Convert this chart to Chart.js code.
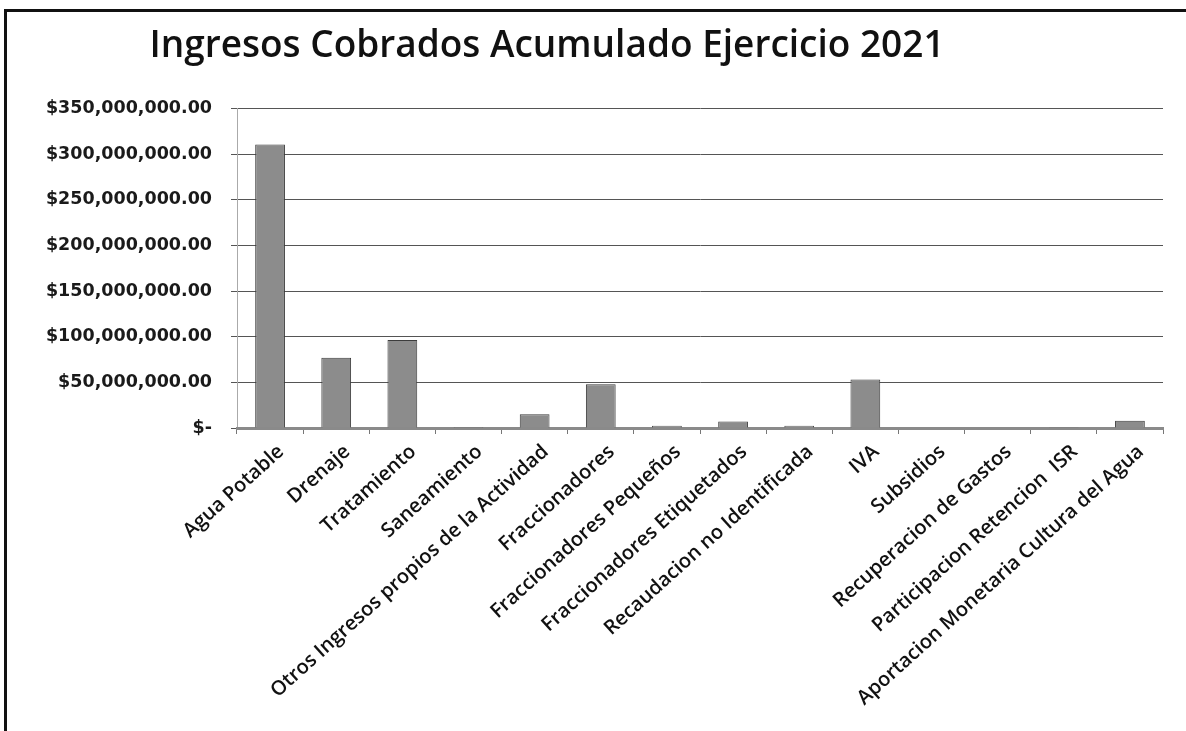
<!DOCTYPE html>
<html>
<head>
<meta charset="utf-8">
<script src="https://cdn.jsdelivr.net/npm/chart.js@4/dist/chart.umd.min.js"></script>
<style>
html,body{margin:0;padding:0;background:#fff;}
#wrap{position:relative;width:1186px;height:731px;}
#frame{position:absolute;left:4px;top:9px;right:0;bottom:0;border-left:3px solid #111;border-top:3px solid #111;pointer-events:none;}
</style>
</head>
<body>
<div id="wrap">
<canvas id="chart" width="1186" height="731"></canvas>
<div id="frame"></div>
</div>
<script>
// chart data
const titleText = "Ingresos Cobrados Acumulado Ejercicio 2021";
const categories = [
  "Agua Potable",
  "Drenaje",
  "Tratamiento",
  "Saneamiento",
  "Otros Ingresos propios de la Actividad",
  "Fraccionadores",
  "Fraccionadores Pequeños",
  "Fraccionadores Etiquetados",
  "Recaudacion no Identificada",
  "IVA",
  "Subsidios",
  "Recuperacion de Gastos",
  "Participacion Retencion  ISR",
  "Aportacion Monetaria Cultura del Agua"
];
const ingresos = [310600000, 76900000, 96300000, 1000000, 15000000, 47800000, 2500000, 7000000, 2500000, 53000000, 0, 0, 400000, 8000000];
const yTicks = [0, 50000000, 100000000, 150000000, 200000000, 250000000, 300000000, 350000000];

function money(v){
  if(v === 0) return "$-";
  return "$" + v.toLocaleString("en-US", {minimumFractionDigits: 2, maximumFractionDigits: 2});
}

// move the title so it sits where the original has it
const titleShift = {
  id: "titleShift",
  afterLayout(chart){
    const t = chart.titleBlock;
    if(!t) return;
    t.left = 0;
    t.right = 1094;
    t.width = 1094;
  }
};

let ctx = document.getElementById("chart").getContext("2d");

let chartInstance = new Chart(ctx, {
  type: "bar",
  data: {
    labels: categories,
    datasets: [{
      label: "Ingresos",
      data: ingresos,
      backgroundColor: "#8c8c8c",
      borderColor: "#3c3c3c",
      borderWidth: 1,
      barPercentage: 0.45,
      categoryPercentage: 1
    }]
  },
  options: {
    responsive: false,
    animation: false,
    devicePixelRatio: 1,
    layout: { padding: { left: 10, right: 23, top: 0, bottom: 0 } },
    plugins: {
      legend: { display: false },
      tooltip: { enabled: false },
      title: {
        display: true,
        text: titleText,
        color: "#111",
        font: { family: "'Open Sans'", size: 37, weight: "600", lineHeight: 1.2 },
        padding: { top: 24, bottom: 40 }
      }
    },
    scales: {
      y: {
        min: 0,
        max: 350000000,
        afterBuildTicks(scale){
          scale.ticks = yTicks.map(v => ({ value: v }));
        },
        afterFit(scale){ scale.width = 227; },
        ticks: {
          callback: v => money(v),
          color: "#1a1a1a",
          padding: 19,
          font: { family: "'DejaVu Sans'", size: 17.5, weight: "bold" }
        },
        grid: { color: "#555", lineWidth: 1, tickLength: 6 },
        border: { display: true, color: "#aaa", width: 1 }
      },
      x: {
        afterFit(scale){ scale.height = 303; },
        ticks: {
          autoSkip: false,
          minRotation: 42,
          maxRotation: 42,
          labelOffset: 11,
          color: "#111",
          padding: 6,
          font: { family: "'Open Sans'", size: 20, weight: "600" }
        },
        grid: { offset: true, drawOnChartArea: false, color: "#777", tickLength: 6 },
        border: { display: true, color: "#8a8a8a", width: 3 }
      }
    }
  },
  plugins: [titleShift]
});
</script>
</body>
</html>
